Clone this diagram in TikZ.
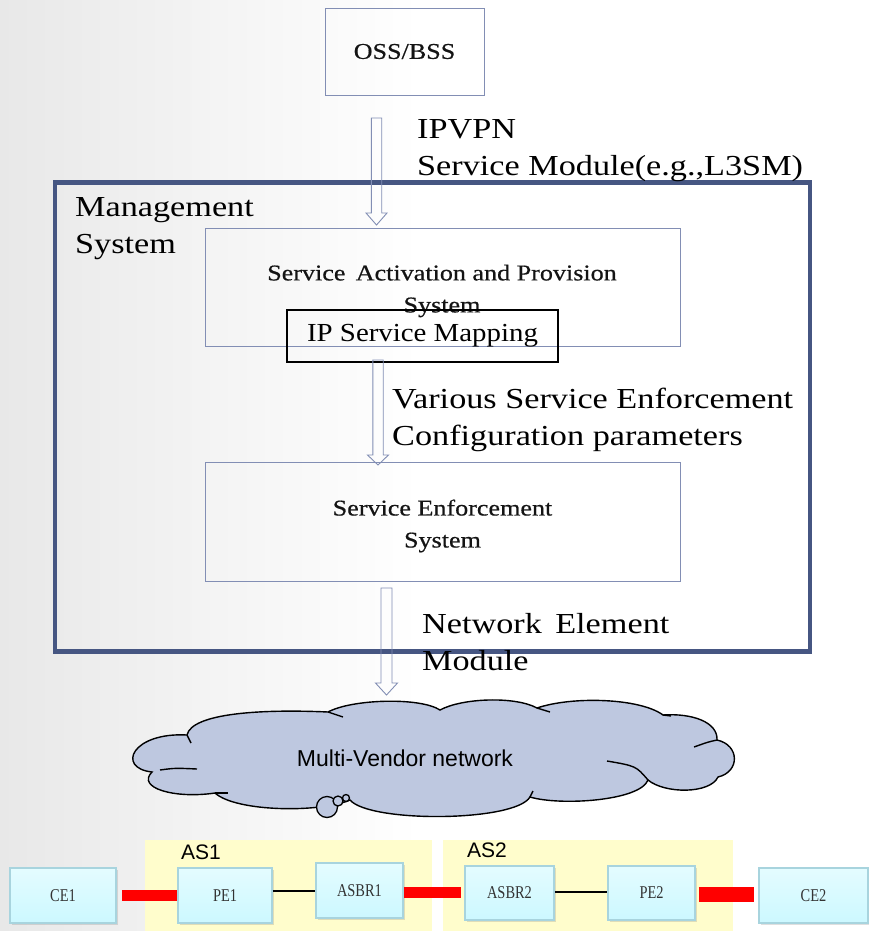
\documentclass[tikz,border=0pt]{standalone}
\usepackage{fontspec}
\setmainfont{Liberation Serif}
\setsansfont{Liberation Sans}
\newfontfamily\labfont[FakeStretch=1.18]{Liberation Serif}
\newfontfamily\boxfont[FakeStretch=1.16,FakeBold=0.6]{Liberation Serif}
\newfontfamily\mapfont[FakeStretch=1.11]{Liberation Serif}
\newfontfamily\netfont[FakeStretch=0.8]{Liberation Serif}
\usetikzlibrary{calc,shadows}
\definecolor{boxc}{RGB}{130,142,180}
\definecolor{framec}{RGB}{70,86,130}
\definecolor{cloudc}{RGB}{190,200,224}
\definecolor{asc}{RGB}{255,253,204}
\definecolor{nodeb}{RGB}{168,212,222}
\definecolor{nodet}{RGB}{228,252,255}
\definecolor{nodebt}{RGB}{204,248,255}
\definecolor{linkred}{RGB}{255,0,0}
\definecolor{txt}{RGB}{20,20,20}
\tikzset{
  sysbox/.style={draw=boxc, line width=0.8pt, inner sep=0pt, align=center, text=txt, font=\boxfont\fontsize{22.5}{32}\selectfont},
  biglabel/.style={anchor=north west, inner sep=0pt, align=left, font=\labfont\fontsize{29}{37}\selectfont},
  netnode/.style={draw=nodeb, line width=1.8pt, top color=nodet, bottom color=nodebt, inner sep=0pt,
     font=\netfont\fontsize{18}{20}\selectfont, text=black!80,
     drop shadow={opacity=0.25, shadow xshift=1.5pt, shadow yshift=-2pt}},
  aslabel/.style={anchor=north west, inner sep=0pt, font=\sffamily\fontsize{21}{24}\selectfont},
  hollow/.style={draw=boxc, line width=0.9pt, line join=miter},
  redlink/.style={draw=linkred, line width=11pt},
  blacklink/.style={draw=black, line width=1.2pt},
  cloudline/.style={draw=black, line width=1.4pt}
}
% hollow down arrow from (#1) to tip (#2): shaft half width #3, head half width #4, head length #5
\newcommand\hollowdown[5]{%
  \draw[hollow] ($(#1)+(-#3,0)$) -- ($(#1)+(#3,0)$) -- ($(#2)+(#3,-#5)$) -- ($(#2)+(#4,-#5)$)
    -- (#2) -- ($(#2)+(-#4,-#5)$) -- ($(#2)+(-#3,-#5)$) -- cycle;}
\begin{document}
\begin{tikzpicture}[x=1pt,y=-1pt]
\useasboundingbox (0,0) rectangle (868,931);
\shade[left color=black!9, right color=white] (0,0) rectangle (420,931);

% OSS/BSS
\node[sysbox, minimum width=159, minimum height=87] (oss) at (404.5,51.5) {OSS/BSS};

% management frame
\draw[framec, line width=4.6pt] (55,182.5) rectangle (810,651.5);
\node[biglabel] (mgmt) at (75,197) {Management\\System};

% SAPS
\node[sysbox, minimum width=475, minimum height=118] (saps) at (442.5,287) {};
\node[sysbox, draw=none] (sapst) at (442,291) {Service\, Activation and Provision\\System};
\node[draw=black, line width=1.6pt, minimum width=271, minimum height=52, inner sep=0pt, font=\mapfont\fontsize{26}{30}\selectfont] (ipsm) at (422.5,336) {IP Service Mapping};

% SES
\node[sysbox, minimum width=475, minimum height=119] (ses) at (442.5,521.5) {};
\node[sysbox, draw=none] (sest) at (442.5,526) {Service Enforcement\\System};

% arrows
\coordinate (a1s) at (376.5,118);
\coordinate (a1e) at (376.5,225);
\hollowdown{a1s}{a1e}{5.2}{10.5}{12}
\node[biglabel] (lab1) at (417,119) {IPVPN\\Service Module(e.g.,L3SM)};

\coordinate (a2s) at (378,360);
\coordinate (a2e) at (378,465);
\hollowdown{a2s}{a2e}{5.2}{10.5}{10}
\node[biglabel] (lab2) at (392,388) {Various Service Enforcement\\Configuration parameters};

\coordinate (a3s) at (386.5,588);
\coordinate (a3e) at (386.5,695);
\hollowdown{a3s}{a3e}{5.5}{11}{12}
\node[biglabel] (lab3) at (422,613) {Network\, Element\\Module};

% cloud
\coordinate (cA) at (187,735);
\coordinate (cB) at (328,712);
\coordinate (cC) at (440,710);
\coordinate (cD) at (537,708);
\coordinate (cE) at (663,715);
\coordinate (cF) at (717,740);
\coordinate (cG) at (718,777);
\coordinate (cH) at (648,780);
\coordinate (cI) at (530,797);
\coordinate (cJ) at (350,800);
\coordinate (cK) at (215,793);
\coordinate (cL) at (152,772);
\path[cloudline, fill=cloudc] (cA)
  .. controls (192,713) and (262,709) .. (cB)
  .. controls (352,699) and (420,697) .. (cC)
  .. controls (462,698) and (515,696) .. (cD)
  .. controls (572,696) and (640,698) .. (cE)
  .. controls (692,713) and (718,722) .. (cF)
  .. controls (740,745) and (740,772) .. (cG)
  .. controls (710,794) and (665,794) .. (cH)
  .. controls (640,801) and (560,806) .. (cI)
  .. controls (515,822) and (370,823) .. (cJ)
  .. controls (320,813) and (236,812) .. (cK)
  .. controls (175,799) and (136,788) .. (cL)
  .. controls (116,768) and (132,732) .. (cA) -- cycle;
\draw[cloudline] (160,770) .. controls (175,768) .. (197,769);
\draw[cloudline] (cA) -- (191,743);
\draw[cloudline] (cB) -- (343,717);
\draw[cloudline] (cD) -- (550,712);
\draw[cloudline] (cE) -- (671,716);
\draw[cloudline] (cF) .. controls (708,742) .. (694,747);
\draw[cloudline] (cH) .. controls (636,766) .. (607,761);
\draw[cloudline] (cI) -- (533,791);
\draw[cloudline] (cK) -- (228,793);
\node[font=\sffamily\fontsize{23}{26}\selectfont, inner sep=0pt] (cloudt) at (405,758) {Multi-Vendor network};
\draw[line width=1.3pt, fill=cloudc] (327,807) circle (10.5);
\draw[line width=1.3pt, fill=cloudc] (338,801) circle (5);
\draw[line width=1.3pt, fill=cloudc] (346,798) circle (3.5);

% AS regions
\fill[asc] (145,840) rectangle (432,931);
\fill[asc] (443,840) rectangle (733,931);
\node[aslabel] (as1) at (181,845) {AS1};
\node[aslabel] (as2) at (467,843) {AS2};

% network nodes
\node[netnode, minimum width=106, minimum height=55] (ce1) at (63,895.5) {CE1};
\node[netnode, minimum width=94, minimum height=55] (pe1) at (225,895.5) {PE1};
\node[netnode, minimum width=87, minimum height=55] (asbr1) at (359.5,890.5) {ASBR1};
\node[netnode, minimum width=89, minimum height=54] (asbr2) at (509.5,893) {ASBR2};
\node[netnode, minimum width=87, minimum height=54] (pe2) at (651.5,893) {PE2};
\node[netnode, minimum width=109, minimum height=55] (ce2) at (813.5,895.5) {CE2};

% links
\draw[redlink] (ce1.east |- 0,895.5) ++(5,0) -- (pe1.west |- 0,895.5);
\draw[blacklink] (pe1.east |- 0,891) -- (asbr1.west |- 0,891);
\draw[redlink] (asbr1.east |- 0,892.5) -- ++(57,0) coordinate (r2e);
\draw[blacklink] (asbr2.east |- 0,892) -- (pe2.west |- 0,892);
\draw[redlink, line width=15pt] (pe2.east |- 0,894) ++(3,0) -- ++(55,0) coordinate (r3e);
\end{tikzpicture}
\end{document}
